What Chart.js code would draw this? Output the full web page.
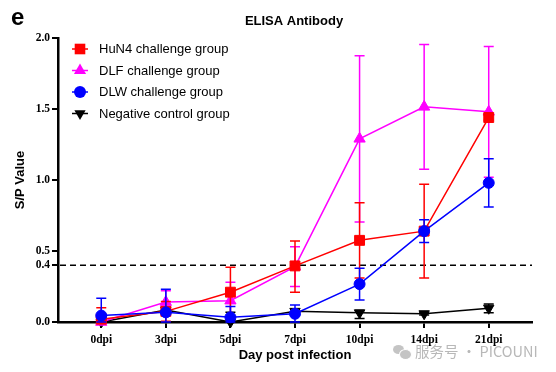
<!DOCTYPE html>
<html>
<head>
<meta charset="utf-8">
<script src="https://cdn.jsdelivr.net/npm/chart.js@4.4.1/dist/chart.umd.min.js"></script>
<style>
  body { margin: 0; background: #fff; }
  #wrap { position: relative; width: 556px; height: 372px; }
  #mark { position: absolute; left: 393px; top: 340px; color: #b8b8b8; font: 14.5px "Noto Sans CJK SC", sans-serif; white-space: nowrap; }
  #mark .ic { display: inline-block; position: relative; width: 17px; height: 13px; vertical-align: -1px; margin-right: 5px; }
  #mark .ic i { position: absolute; background: #c4c4c4; border-radius: 50%; }
</style>
</head>
<body>
<div id="wrap">
  <canvas id="chart" width="556" height="372"></canvas>
  <div id="mark"><span class="ic"><i style="left:0;top:0;width:11px;height:9px"></i><i style="left:6px;top:4px;width:11px;height:9px;border:1px solid #fff"></i></span>服务号 · PICOUNI</div>
</div>
<script>
const categories = ['0dpi', '3dpi', '5dpi', '7dpi', '10dpi', '14dpi', '21dpi'];
const yTicks = [0, 0.4, 0.5, 1.0, 1.5, 2.0];
const cutoff = 0.4;

const hun4 = [0.02, 0.075, 0.21, 0.395, 0.575, 0.64, 1.44];
const hun4Hi = [0.10, 0.145, 0.385, 0.57, 0.84, 0.97, 1.46];
const hun4Lo = [0.0, 0.005, 0.035, 0.21, 0.31, 0.31, 1.42];

const dlf = [0.0, 0.14, 0.15, 0.39, 1.29, 1.515, 1.48];
const dlfHi = [0.01, 0.22, 0.28, 0.53, 1.875, 1.955, 1.94];
const dlfLo = [0.0, 0.06, 0.02, 0.25, 0.705, 1.075, 1.02];

const dlw = [0.045, 0.068, 0.033, 0.058, 0.267, 0.64, 0.98];
const dlwHi = [0.167, 0.23, 0.11, 0.12, 0.378, 0.72, 1.15];
const dlwLo = [0.0, 0.0, 0.0, 0.0, 0.155, 0.56, 0.81];

const neg = [0.0, 0.085, 0.0, 0.075, 0.065, 0.058, 0.097];
const negHi = [0.0, 0.10, 0.068, 0.09, 0.08, 0.065, 0.127];
const negLo = [0.0, 0.07, 0.0, 0.06, 0.025, 0.05, 0.066];

const pts = arr => arr.map((v, i) => ({ x: i, y: v }));

function makeSet(label, vals, hi, lo, color, style, radius, order, rot) {
    return {
        label: label,
        data: pts(vals),
        errHi: hi,
        errLo: lo,
        borderColor: color,
        backgroundColor: color,
        pointBackgroundColor: color,
        pointBorderColor: color,
        pointStyle: style,
        pointRadius: radius,
        pointBorderWidth: 1,
        pointRotation: rot || 0,
        borderWidth: 1.5,
        order: order,
        clip: false
    };
}

const serifBold = { family: '"Liberation Serif", "Times New Roman", serif', size: 11.5, weight: 'bold' };
const sansBold = { family: '"Liberation Sans", Arial, sans-serif', size: 13, weight: 'bold' };

// error bars, drawn under each dataset's line
const errorBars = {
    id: 'errorBars',
    beforeDatasetDraw(chart, args) {
        const ds = chart.data.datasets[args.index];
        const { ctx, scales: { x, y } } = chart;
        ctx.save();
        ctx.strokeStyle = ds.borderColor;
        ctx.lineWidth = 1.5;
        ds.data.forEach((p, i) => {
            const px = x.getPixelForValue(p.x);
            const top = y.getPixelForValue(ds.errHi[i]);
            const bot = y.getPixelForValue(ds.errLo[i]);
            if (Math.abs(bot - top) < 1) return;
            ctx.beginPath();
            ctx.moveTo(px, top); ctx.lineTo(px, bot);
            ctx.moveTo(px - 5, top); ctx.lineTo(px + 5, top);
            ctx.moveTo(px - 5, bot); ctx.lineTo(px + 5, bot);
            ctx.stroke();
        });
        ctx.restore();
    }
};

function marker(ctx, style, x, y, r, color) {
    ctx.fillStyle = color;
    ctx.beginPath();
    if (style === 'rect') {
        const s = r * Math.SQRT1_2;
        ctx.rect(x - s, y - s, 2 * s, 2 * s);
    } else if (style === 'circle') {
        ctx.arc(x, y, r, 0, Math.PI * 2);
    } else if (style === 'up') {
        ctx.moveTo(x, y - r);
        ctx.lineTo(x + r * 0.866, y + r * 0.5);
        ctx.lineTo(x - r * 0.866, y + r * 0.5);
    } else {
        ctx.moveTo(x, y + r);
        ctx.lineTo(x + r * 0.866, y - r * 0.5);
        ctx.lineTo(x - r * 0.866, y - r * 0.5);
    }
    ctx.closePath();
    ctx.fill();
}

const decor = {
    id: 'decor',
    beforeDatasetsDraw(chart) {
        const { ctx, chartArea, scales: { y } } = chart;
        const py = y.getPixelForValue(cutoff);
        ctx.save();
        ctx.strokeStyle = '#000';
        ctx.lineWidth = 1.5;
        ctx.setLineDash([6, 4]);
        ctx.beginPath();
        ctx.moveTo(chartArea.left + 2, py);
        ctx.lineTo(chartArea.right, py);
        ctx.stroke();
        ctx.restore();
    },
    afterDraw(chart) {
        const ctx = chart.ctx;
        ctx.save();
        ctx.fillStyle = '#000';
        ctx.font = 'bold 24px "Liberation Sans", Arial, sans-serif';
        ctx.textBaseline = 'alphabetic';
        ctx.fillText('e', 11, 25);
        ctx.font = 'bold 13px "Liberation Sans", Arial, sans-serif';
        ctx.textAlign = 'center';
        ctx.fillText('ELISA Antibody', 294, 25);

        // legend
        const styles = ['rect', 'up', 'circle', 'down'];
        const radii = [7.5, 7, 6, 6.5];
        ctx.textAlign = 'left';
        ctx.textBaseline = 'middle';
        ctx.font = '13px "Liberation Sans", Arial, sans-serif';
        chart.data.datasets.forEach((ds, i) => {
            const ly = 49 + i * 21.5;
            ctx.strokeStyle = ds.borderColor;
            ctx.lineWidth = 1.5;
            ctx.beginPath();
            ctx.moveTo(72, ly); ctx.lineTo(88, ly);
            ctx.stroke();
            marker(ctx, styles[i], 80, ly, radii[i], ds.borderColor);
            ctx.fillStyle = '#000';
            ctx.fillText(ds.label, 99, ly + 0.5);
        });
        ctx.restore();
    }
};

new Chart(document.getElementById('chart'), {
    type: 'line',
    data: {
        datasets: [
            makeSet('HuN4 challenge group', hun4, hun4Hi, hun4Lo, '#ff0000', 'rect', 7, 1),
            makeSet('DLF challenge group', dlf, dlfHi, dlfLo, '#ff00ff', 'triangle', 6.5, 2),
            makeSet('DLW challenge group', dlw, dlwHi, dlwLo, '#0000ff', 'circle', 5.5, 0),
            makeSet('Negative control group', neg, negHi, negLo, '#000000', 'triangle', 6, 3, 180)
        ]
    },
    options: {
        responsive: false,
        animation: false,
        layout: { padding: { top: 38, right: 24, left: 0, bottom: 0 } },
        plugins: {
            legend: { display: false },
            title: { display: false },
            tooltip: { enabled: false }
        },
        scales: {
            x: {
                type: 'linear',
                min: -0.67,
                max: 6.67,
                afterFit: s => { s.height = 50; },
                afterBuildTicks: s => { s.ticks = categories.map((c, i) => ({ value: i })); },
                ticks: {
                    autoSkip: false,
                    maxRotation: 0,
                    padding: 5,
                    color: '#000',
                    font: serifBold,
                    callback: v => categories[v]
                },
                grid: { drawOnChartArea: false, drawTicks: true, tickLength: 6, lineWidth: 2, color: '#000' },
                border: { display: true, color: '#000', width: 2.5 },
                title: { display: true, text: 'Day post infection', color: '#000', font: sansBold, padding: { bottom: 9, top: 0 } }
            },
            y: {
                min: 0,
                max: 2,
                afterFit: s => { s.width = 58; },
                afterBuildTicks: s => { s.ticks = yTicks.map(v => ({ value: v })); },
                ticks: {
                    autoSkip: false,
                    padding: 2,
                    color: '#000',
                    font: serifBold,
                    callback: v => v.toFixed(1)
                },
                grid: { drawOnChartArea: false, drawTicks: true, tickLength: 6, lineWidth: 2, color: '#000' },
                border: { display: true, color: '#000', width: 2.5 },
                title: { display: true, text: 'S/P Value', color: '#000', font: sansBold, padding: { top: 13, bottom: 0 } }
            }
        }
    },
    plugins: [errorBars, decor]
});
</script>
</body>
</html>
